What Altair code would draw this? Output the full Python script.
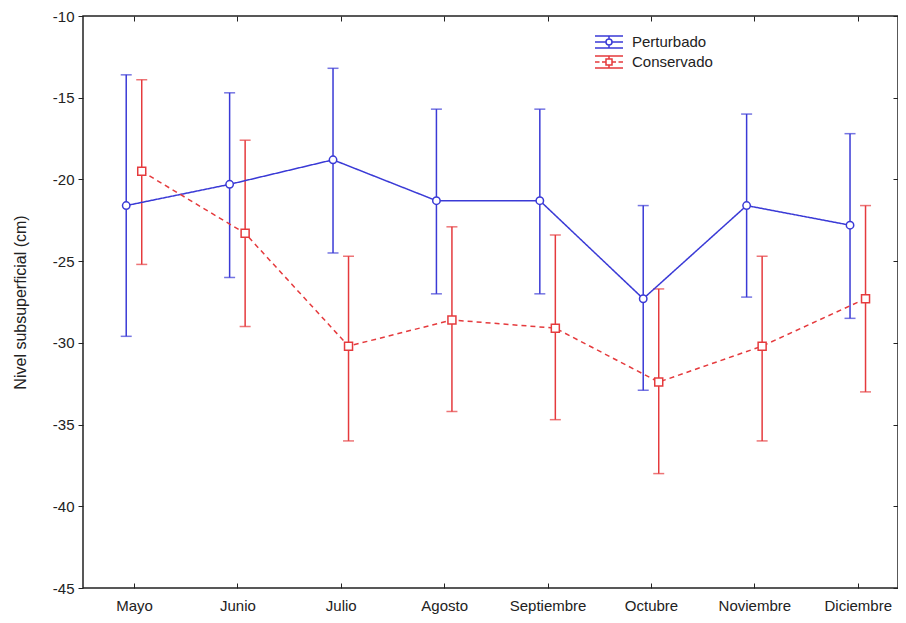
import json
import altair as alt
import pandas as pd

# ---- data ----
months = ["Mayo", "Junio", "Julio", "Agosto", "Septiembre", "Octubre", "Noviembre", "Diciembre"]
series_names = ["Perturbado", "Conservado"]

pert_mean = [-21.6, -20.3, -18.8, -21.3, -21.3, -27.3, -21.6, -22.8]
pert_upper = [-13.6, -14.7, -13.2, -15.7, -15.7, -21.6, -16.0, -17.2]
pert_lower = [-29.6, -26.0, -24.5, -27.0, -27.0, -32.9, -27.2, -28.5]

cons_mean = [-19.5, -23.3, -30.2, -28.6, -29.1, -32.4, -30.2, -27.3]
cons_upper = [-13.9, -17.6, -24.7, -22.9, -23.4, -26.7, -24.7, -21.6]
cons_lower = [-25.2, -29.0, -36.0, -34.2, -34.7, -38.0, -36.0, -33.0]

y_ticks = [-45, -40, -35, -30, -25, -20, -15, -10]

# ---- styling ----
colors = ["#3a3ad6", "#e53a3d"]
dashes = [[1, 0], [5, 4]]
x_shift = [-0.075, 0.075]
FONT = "Liberation Sans"
TXT = "#222222"

means = [pert_mean, cons_mean]
uppers = [pert_upper, cons_upper]
lowers = [pert_lower, cons_lower]

rows = []
for s, name in enumerate(series_names):
    for i, m in enumerate(months):
        rows.append(dict(series=name, idx=i, month=m, pos=i + x_shift[s],
                         mean=means[s][i], upper=uppers[s][i], lower=lowers[s][i]))
df = pd.DataFrame(rows)

W, H = 815, 572
xscale = alt.Scale(domain=[-0.493, 7.389], nice=False, zero=False)
yscale = alt.Scale(domain=[-45, -10], nice=False, zero=False)
cscale = alt.Scale(domain=series_names, range=colors)

label_expr = json.dumps(months) + "[datum.value]"

bottom_axis = alt.Axis(orient="bottom", values=list(range(len(months))), labelExpr=label_expr,
                       offset=-5, domain=False, tickSize=5, tickColor=TXT, tickWidth=1,
                       labelPadding=10, labelFontSize=15, title=None, grid=False)
left_axis = alt.Axis(orient="left", values=y_ticks, domain=False, tickSize=5, tickColor=TXT,
                     tickWidth=1, labelPadding=4, labelFontSize=15,
                     labelExpr="toString(datum.value)",
                     title="Nivel subsuperficial (cm)", titleFontSize=16,
                     titleFontWeight="normal", titlePadding=24, grid=False)
top_axis = alt.Axis(orient="top", values=list(range(len(months))), offset=-5, domain=False,
                    tickSize=5, tickColor=TXT, tickWidth=1, labels=False, title=None, grid=False)
right_axis = alt.Axis(orient="right", values=y_ticks, offset=-5, domain=False,
                      tickSize=5, tickColor=TXT, tickWidth=1, labels=False, title=None, grid=False)

# legend symbols: error bar + line + marker drawn as custom symbol paths
# (marker outlines traced in both directions so they stay hollow)
sym_circle = ("M-1.4,-0.6H1.4M-1.4,0.6H1.4M0,-0.6V-0.3M0,0.3V0.6"
              "M-1.4,0H-0.3M0.3,0H1.4"
              "M0.3,0A0.3,0.3,0,1,1,-0.3,0A0.3,0.3,0,1,1,0.3,0Z"
              "M0.3,0A0.3,0.3,0,1,0,-0.3,0A0.3,0.3,0,1,0,0.3,0Z")
sym_square = ("M-1.4,-0.6H1.4M-1.4,0.6H1.4M0,-0.6V-0.3M0,0.3V0.6"
              "M-1.4,0H-0.95M-0.7,0H-0.3M0.3,0H0.7M0.95,0H1.4"
              "M-0.3,-0.3H0.3V0.3H-0.3Z"
              "M-0.3,-0.3V0.3H0.3V-0.3Z")

legend = alt.Legend(orient="none", legendX=515, legendY=15, title=None, padding=0,
                    labelFont=FONT, labelFontSize=15, labelColor=TXT, labelOffset=12,
                    symbolSize=400, symbolStrokeWidth=1.5, rowPadding=0, symbolOpacity=1,
                    symbolFillColor="white")

color_enc = alt.Color("series:N", scale=cscale, legend=legend)

base = alt.Chart(df)

legend_layer = base.transform_filter("false").mark_point(filled=False, strokeWidth=1.5).encode(
    x=alt.X("pos:Q", scale=xscale, axis=None),
    y=alt.Y("mean:Q", scale=yscale, axis=None),
    color=color_enc,
    shape=alt.Shape("series:N", scale=alt.Scale(domain=series_names, range=[sym_circle, sym_square]),
                    legend=legend),
)

rules = base.mark_rule(strokeWidth=1.5).encode(
    x=alt.X("pos:Q", scale=xscale, axis=bottom_axis),
    y=alt.Y("lower:Q", scale=yscale, axis=left_axis),
    y2="upper:Q",
    color=color_enc,
)

caps_low = base.mark_tick(orient="horizontal", size=11, thickness=1.5).encode(
    x=alt.X("pos:Q", scale=xscale, axis=top_axis),
    y=alt.Y("lower:Q", scale=yscale, axis=right_axis),
    color=color_enc,
)

caps_up = base.mark_tick(orient="horizontal", size=11, thickness=1.5).encode(
    x=alt.X("pos:Q", scale=xscale, axis=None),
    y=alt.Y("upper:Q", scale=yscale, axis=None),
    color=color_enc,
)

line_layers = []
for s, name in enumerate(series_names):
    line_layers.append(
        base.transform_filter(alt.datum.series == name).mark_line(
            strokeWidth=1.5, strokeDash=dashes[s]
        ).encode(
            x=alt.X("pos:Q", scale=xscale, axis=None),
            y=alt.Y("mean:Q", scale=yscale, axis=None),
            color=color_enc,
        )
    )

pts_circle = base.transform_filter(alt.datum.series == series_names[0]).mark_point(
    shape="circle", filled=False, fill="white", size=55, strokeWidth=1.5, opacity=1
).encode(
    x=alt.X("pos:Q", scale=xscale, axis=None),
    y=alt.Y("mean:Q", scale=yscale, axis=None),
    color=color_enc,
)

pts_square = base.transform_filter(alt.datum.series == series_names[1]).mark_point(
    shape="square", filled=False, fill="white", size=64, strokeWidth=1.5, opacity=1
).encode(
    x=alt.X("pos:Q", scale=xscale, axis=None),
    y=alt.Y("mean:Q", scale=yscale, axis=None),
    color=color_enc,
)

chart = alt.layer(legend_layer, rules, caps_low, caps_up, *line_layers, pts_circle, pts_square).resolve_axis(
    x="independent", y="independent"
).properties(
    width=W, height=H,
    autosize=alt.AutoSizeParams(type="none"),
    padding={"left": 75, "top": 8, "right": 0, "bottom": 27},
    background="white",
).configure_view(
    stroke=TXT, strokeWidth=1.5
).configure_axis(
    labelFont=FONT, titleFont=FONT, labelColor=TXT, titleColor=TXT, grid=False
)

chart.save("out.html", embed_options={"renderer": "svg", "actions": False})
